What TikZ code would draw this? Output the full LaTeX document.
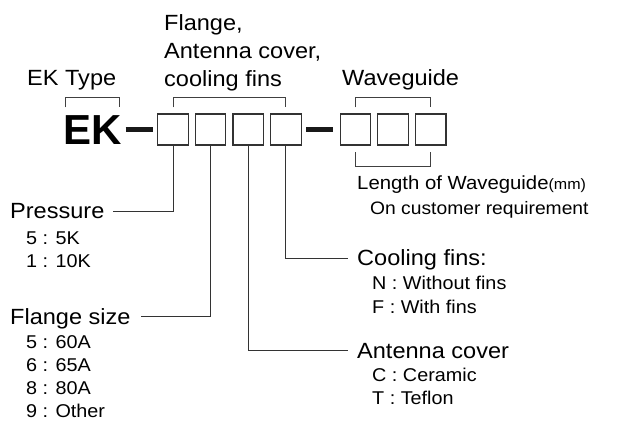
\documentclass[tikz,border=0pt]{standalone}
\usepackage{fontspec}
\setmainfont{Liberation Sans}[FakeStretch=1.07]
\newfontfamily\ekfont{Liberation Sans}
\usetikzlibrary{positioning}

\begin{document}
\begin{tikzpicture}[x=1pt,y=-1pt,node distance=6pt,
    every node/.style={inner sep=0pt,anchor=base west},
    digit/.style={draw=black!80,line width=1.1pt,minimum width=30.5pt,minimum height=31pt,anchor=center},
    lbl/.style={font=\fontsize{22}{26}\selectfont},
    opt/.style={font=\fontsize{18.5}{22}\selectfont},
    lead/.style={draw=black!80,line width=0.9pt},
    brk/.style={draw=black!75,line width=0.9pt},
    hyph/.style={draw=black!90,line width=4.8pt}]
  \useasboundingbox (0,0) rectangle (631,427);
  \node[font=\fontsize{42}{42}\ekfont\bfseries] (ek) at (63,145) {EK};
  \node[digit] (f1) at (173,129.5) {};
  \node[digit,right=of f1] (f2) {};
  \node[digit,right=of f2] (f3) {};
  \node[digit,right=of f3] (f4) {};
  \node[digit] (w1) at (355.5,129.5) {};
  \node[digit,right=of w1] (w2) {};
  \node[digit,right=of w2] (w3) {};
  \draw[hyph] ([xshift=4pt]ek.east |- f1.center) -- ([xshift=-4pt]f1.west);
  \draw[hyph] ([xshift=4.5pt]f4.east) -- ([xshift=-6.5pt]w1.west);
  \node[lbl] (ektype) at (27,86) {EK Type};
  \node[lbl] (grp1) at (164,31) {Flange,};
  \node[lbl] (grp2) at (164,59) {Antenna cover,};
  \node[lbl] (grp3) at (164,87) {cooling fins};
  \node[lbl] (wg) at (342,86) {Waveguide};
  \draw[brk] ([xshift=2pt,yshift=6pt]ek.west |- f1.north) -- ++(0,-9.5) -| ([xshift=-2pt,yshift=6pt]ek.east |- f1.north);
  \draw[brk] ([yshift=6pt]f1.north) -- ++(0,-9.5) -| ([yshift=6pt]f4.north);
  \draw[brk] ([yshift=6pt]w1.north) -- ++(0,-9.5) -| ([yshift=6pt]w3.north);
  \draw[brk] ([yshift=-6.5pt]w1.south) -- ++(0,14) -| ([yshift=-6.5pt]w3.south);
  \node[font=\fontsize{19}{24}\selectfont] (len) at (357,190) {Length of Waveguide{\fontsize{15}{16}\selectfont(mm)}};
  \node[font=\fontsize{18}{20}\selectfont] (cust) at (370,215) {On customer requirement};
  \node[lbl] (press) at (10,219) {Pressure};
  \node[opt] (p5) at (26,245) {5 : 5K};
  \node[opt] (p1) at (26,268) {1 : 10K};
  \node[lbl] (fsize) at (10,324) {Flange size};
  \node[opt] (s5) at (26,348) {5 : 60A};
  \node[opt] (s6) at (26,371) {6 : 65A};
  \node[opt] (s8) at (26,394) {8 : 80A};
  \node[opt] (s9) at (26,417) {9 : Other};
  \node[lbl] (cool) at (357,266) {Cooling fins:};
  \node[opt] (cn) at (372,290) {N : Without fins};
  \node[opt] (cf) at (372,313) {F : With fins};
  \node[lbl] (ant) at (357,358) {Antenna cover};
  \node[opt] (ac) at (372,381) {C : Ceramic};
  \node[opt] (at) at (372,404) {T : Teflon};
  \draw[lead] (f1.south) |- ([xshift=8pt,yshift=8pt]press.base east);
  \draw[lead] (f2.south) |- ([xshift=10pt,yshift=8pt]fsize.base east);
  \draw[lead] (f3.south) |- ([xshift=-9pt,yshift=8pt]ant.base west);
  \draw[lead] (f4.south) |- ([xshift=-9pt,yshift=8pt]cool.base west);
\end{tikzpicture}
\end{document}
